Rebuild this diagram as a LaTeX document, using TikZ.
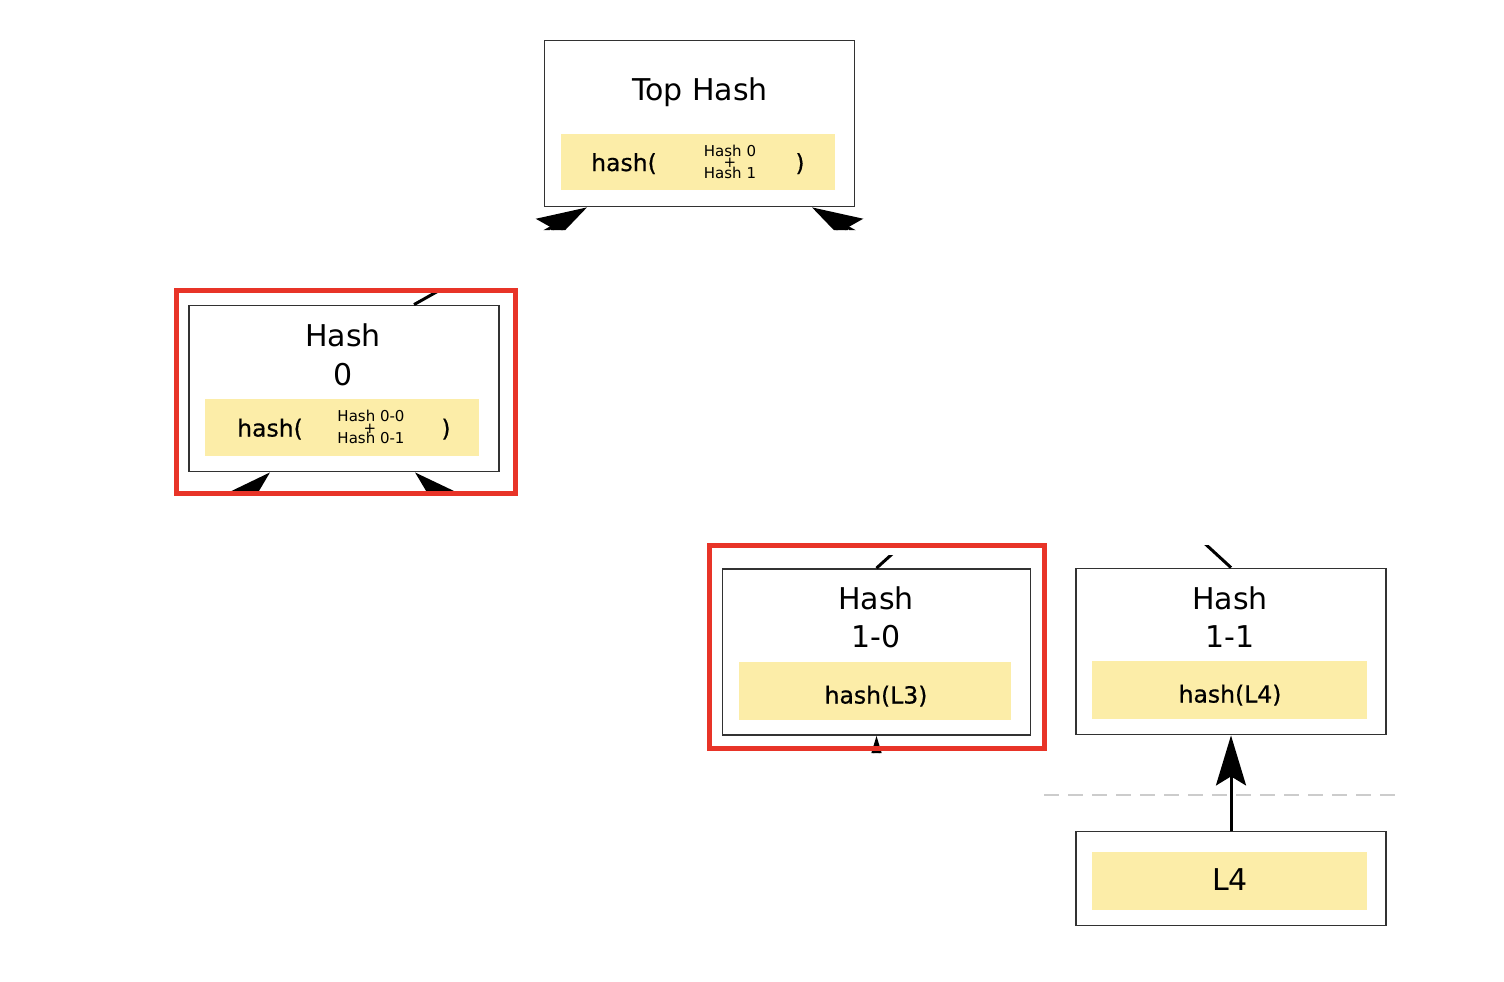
\documentclass[tikz,border=0pt]{standalone}
\usepackage{fontspec}
\setmainfont{DejaVu Sans}
\newfontfamily\midfont{DejaVu Sans}[FakeBold=0.6]
\usetikzlibrary{arrows.meta}
\definecolor{hy}{RGB}{252,237,168}
\definecolor{redbox}{RGB}{232,52,40}
\definecolor{boxline}{RGB}{50,50,50}
\definecolor{dashgray}{RGB}{204,204,204}
\tikzset{
 hbox/.style={draw=boxline, line width=1.8pt, fill=white, rectangle, inner sep=0pt},
 ybox/.style={fill=hy, rectangle, inner sep=0pt},
 big/.style={font=\fontsize{30}{36}\selectfont, inner sep=0pt, anchor=base},
 mid/.style={font=\midfont\fontsize{23.5}{28}\selectfont, inner sep=0pt, anchor=base},
 sml/.style={font=\fontsize{15}{18}\selectfont, inner sep=0pt, anchor=base},
 plus/.style={font=\fontsize{15}{18}\selectfont, inner sep=0pt, anchor=center},
 edge/.style={line width=3pt, -{Stealth[length=50pt,width=30pt,inset=9pt]}},
 hl/.style={draw=redbox, line width=5pt, rectangle, inner sep=0pt},
 sep/.style={draw=dashgray, line width=2.5pt, dash pattern=on 15pt off 9pt},
}
\begin{document}
\begin{tikzpicture}[x=1pt,y=-1pt]
\useasboundingbox (0,0) rectangle (1504,982);

% boxes
\node[hbox, minimum width=310pt, minimum height=166pt] (top) at (699.5,123.5) {};
\node[ybox, minimum width=274pt, minimum height=56pt] (topy) at (698,162) {};
\node[hbox, minimum width=310pt, minimum height=166pt] (h0) at (344,388.5) {};
\node[ybox, minimum width=274pt, minimum height=57pt] (h0y) at (342,427.5) {};
\node[hbox, minimum width=308pt, minimum height=166pt] (h10) at (876.5,652) {};
\node[ybox, minimum width=272pt, minimum height=58pt] (h10y) at (875,691) {};
\node[hbox, minimum width=310pt, minimum height=166pt] (h11) at (1231,651.5) {};
\node[ybox, minimum width=275pt, minimum height=58pt] (h11y) at (1229.5,690) {};
\node[hbox, minimum width=310pt, minimum height=94pt] (l4) at (1231,878.5) {};
\node[ybox, minimum width=275pt, minimum height=58pt] (l4y) at (1229.5,881) {};

% texts: top hash
\node[big] (tt) at (700,100) {Top Hash};
\node[mid] (tf) at (624,171) {hash(};
\node[sml] (ta) at (730,156) {Hash 0};
\node[plus] (tp) at (730,163) {+};
\node[sml] (tb) at (730,178) {Hash 1};
\node[mid] (tc) at (800,171) {)};
% hash 0
\node[big] (h0t1) at (343,346) {Hash};
\node[big] (h0t2) at (343,385) {0};
\node[mid] (h0f) at (270,436.5) {hash(};
\node[sml] (h0a) at (371,421.5) {Hash 0-0};
\node[plus] (h0p) at (370,428.5) {+};
\node[sml] (h0b) at (371,443.5) {Hash 0-1};
\node[mid] (h0c) at (446,436.5) {)};
% hash 1-0
\node[big] (h10t1) at (876,609) {Hash};
\node[big] (h10t2) at (876,647) {1-0};
\node[mid] (h10f) at (876,703.5) {hash(L3)};
% hash 1-1
\node[big] (h11t1) at (1230,609) {Hash};
\node[big] (h11t2) at (1230,647) {1-1};
\node[mid] (h11f) at (1230,702.5) {hash(L4)};
% L4
\node[big] (l4t) at (1230,890) {L4};

% hidden nodes (outside the visible parts)
\coordinate (h1top) at (986,305);
\coordinate (h1bl) at (983,472);
\coordinate (h1br) at (1127,472);
\coordinate (h00) at (166,568);
\coordinate (h01) at (520,568);
\coordinate (l3) at (876.5,831);

% dashed separator
\draw[sep] (1044,795) -- (1398,795);

% connectors, only partly visible
\begin{scope}
\clip (0,0) rectangle (1504,230)
      (175,293) rectangle (516,494)
      (708,555) rectangle (1046,753)
      (1060,545) rectangle (1504,982);
\draw[edge] ([xshift=70pt]h0.north) -- ([xshift=-112.5pt]top.south);
\draw[edge] (h1top) -- ([xshift=112.5pt]top.south);
\draw[edge] (h00) -- ([xshift=-74pt]h0.south);
\draw[edge] (h01) -- ([xshift=71pt]h0.south);
\draw[edge] (h10.north) -- (h1bl);
\draw[edge] (h11.north) -- (h1br);
\draw[edge] (l3) -- (h10.south);
\draw[edge] (l4.north) -- (h11.south);
\end{scope}

% highlight frames
\node[hl, minimum width=339pt, minimum height=203pt] (r0) at (345.5,392) {};
\node[hl, minimum width=335pt, minimum height=203pt] (r1) at (876.5,646.5) {};
\end{tikzpicture}
\end{document}
